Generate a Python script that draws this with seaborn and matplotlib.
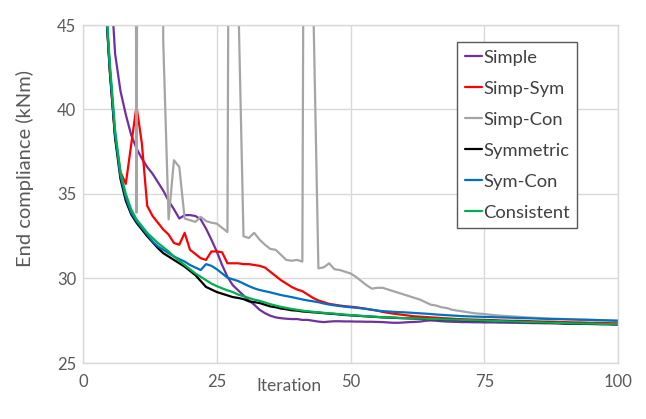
import matplotlib
matplotlib.use("Agg")
import matplotlib.pyplot as plt
import seaborn as sns
import pandas as pd
import numpy as np

iterations = list(range(1, 101))

simple = [150, 100, 70, 56, 48.5, 43.3, 41.1, 39.7, 38.5, 37.7,
          37.1, 36.6, 36.2, 35.7, 35.2, 34.6, 34.1, 33.55, 33.75, 33.75,
          33.7, 33.5, 32.95, 32.3, 31.6, 30.8, 30.1, 29.6, 29.3, 29.0,
          28.7, 28.45, 28.15, 27.95, 27.8, 27.7, 27.65, 27.62, 27.6, 27.6,
          27.55, 27.55, 27.5, 27.45, 27.42, 27.45, 27.47, 27.47, 27.46, 27.46,
          27.45, 27.45, 27.44, 27.44, 27.43, 27.42, 27.4, 27.38, 27.38, 27.4,
          27.42, 27.43, 27.45, 27.5, 27.52, 27.5, 27.47, 27.45, 27.44, 27.43,
          27.42, 27.42, 27.41, 27.41, 27.4, 27.4, 27.4, 27.39, 27.39, 27.38,
          27.38, 27.37, 27.37, 27.36, 27.36, 27.35, 27.35, 27.34, 27.34, 27.33,
          27.33, 27.32, 27.32, 27.31, 27.31, 27.3, 27.3, 27.3, 27.29, 27.29]

simp_sym = [121, 80.5, 58.2, 47.6, 42.4, 38.4, 36.3, 35.6, 37.9, 40.2,
            38.0, 34.3, 33.7, 33.3, 32.9, 32.6, 32.1, 32.0, 32.7, 31.7,
            31.45, 31.2, 31.1, 31.6, 31.6, 31.55, 30.9, 30.9, 30.9, 30.85,
            30.85, 30.8, 30.75, 30.65, 30.4, 30.15, 29.9, 29.7, 29.5, 29.35,
            29.25, 29.05, 28.85, 28.7, 28.6, 28.5, 28.45, 28.4, 28.36, 28.33,
            28.3, 28.25, 28.2, 28.15, 28.1, 28.02, 27.97, 27.92, 27.88, 27.84,
            27.8, 27.76, 27.74, 27.72, 27.7, 27.68, 27.66, 27.64, 27.62, 27.6,
            27.59, 27.58, 27.57, 27.56, 27.55, 27.54, 27.53, 27.52, 27.51, 27.5,
            27.5, 27.49, 27.48, 27.47, 27.46, 27.45, 27.45, 27.44, 27.43, 27.42,
            27.41, 27.4, 27.4, 27.39, 27.38, 27.38, 27.37, 27.36, 27.35, 27.35]

simp_con = [400, 350, 300, 260, 230, 210, 190, 175, 160, 33.9,
            150, 140, 130, 120, 44, 33.5, 37.0, 36.6, 33.55, 33.45,
            33.35, 33.65, 33.4, 33.3, 33.25, 33.0, 32.75, 120, 47, 32.5,
            32.4, 32.7, 32.3, 32.0, 31.75, 31.7, 31.4, 31.1, 31.05, 31.1,
            31.0, 120, 47, 30.6, 30.66, 30.9, 30.55, 30.5, 30.4, 30.3,
            30.1, 29.85, 29.6, 29.4, 29.45, 29.45, 29.35, 29.25, 29.15, 29.05,
            28.95, 28.85, 28.75, 28.6, 28.45, 28.4, 28.3, 28.25, 28.15, 28.1,
            28.05, 28.0, 27.95, 27.92, 27.9, 27.86, 27.83, 27.8, 27.78, 27.76,
            27.74, 27.72, 27.7, 27.68, 27.66, 27.64, 27.63, 27.62, 27.61, 27.6,
            27.59, 27.58, 27.57, 27.56, 27.55, 27.54, 27.53, 27.52, 27.51, 27.5]

symmetric = [120, 80, 58, 47.5, 42.3, 38.3, 35.9, 34.6, 33.8, 33.3,
             32.9, 32.5, 32.15, 31.8, 31.5, 31.3, 31.1, 30.9, 30.7, 30.45,
             30.2, 29.85, 29.5, 29.35, 29.2, 29.1, 29.0, 28.9, 28.85, 28.78,
             28.65, 28.6, 28.55, 28.45, 28.35, 28.3, 28.22, 28.18, 28.12, 28.1,
             28.05, 28.03, 28.0, 27.98, 27.95, 27.92, 27.9, 27.87, 27.84, 27.82,
             27.8, 27.78, 27.76, 27.74, 27.72, 27.7, 27.69, 27.68, 27.66, 27.65,
             27.64, 27.63, 27.62, 27.61, 27.6, 27.6, 27.58, 27.57, 27.56, 27.55,
             27.54, 27.53, 27.52, 27.51, 27.5, 27.5, 27.49, 27.48, 27.47, 27.46,
             27.45, 27.44, 27.43, 27.42, 27.41, 27.4, 27.39, 27.38, 27.36, 27.34,
             27.33, 27.33, 27.32, 27.32, 27.31, 27.31, 27.3, 27.3, 27.29, 27.28]

sym_con = [122, 81, 58.5, 47.6, 42.5, 38.5, 36.1, 34.8, 33.9, 33.4,
           33.0, 32.6, 32.2, 31.9, 31.7, 31.5, 31.3, 31.15, 31.0, 30.8,
           30.65, 30.5, 30.85, 30.75, 30.55, 30.3, 30.05, 29.95, 29.85, 29.7,
           29.55, 29.42, 29.32, 29.25, 29.18, 29.1, 29.02, 28.96, 28.9, 28.83,
           28.76, 28.7, 28.65, 28.6, 28.52, 28.46, 28.41, 28.37, 28.33, 28.3,
           28.27, 28.24, 28.2, 28.15, 28.1, 28.07, 28.05, 28.03, 28.01, 28.0,
           27.98, 27.96, 27.94, 27.92, 27.9, 27.87, 27.85, 27.83, 27.81, 27.79,
           27.77, 27.76, 27.75, 27.74, 27.73, 27.72, 27.71, 27.7, 27.69, 27.68,
           27.67, 27.66, 27.65, 27.64, 27.63, 27.62, 27.61, 27.6, 27.6, 27.59,
           27.58, 27.57, 27.56, 27.56, 27.55, 27.54, 27.53, 27.52, 27.51, 27.5]

consistent = [125, 82, 59, 47.8, 42.8, 38.8, 36.3, 35.0, 34.1, 33.5,
              33.1, 32.7, 32.4, 32.1, 31.85, 31.6, 31.3, 31.05, 30.8, 30.55,
              30.3, 30.1, 29.9, 29.7, 29.55, 29.42, 29.3, 29.2, 29.05, 28.95,
              28.85, 28.75, 28.68, 28.58, 28.48, 28.4, 28.32, 28.26, 28.2, 28.15,
              28.1, 28.06, 28.03, 28.0, 27.97, 27.94, 27.92, 27.89, 27.86, 27.84,
              27.81, 27.79, 27.77, 27.75, 27.73, 27.71, 27.7, 27.69, 27.67, 27.66,
              27.65, 27.64, 27.63, 27.62, 27.61, 27.6, 27.59, 27.58, 27.57, 27.56,
              27.55, 27.54, 27.53, 27.52, 27.51, 27.5, 27.49, 27.48, 27.47, 27.46,
              27.45, 27.44, 27.43, 27.42, 27.41, 27.4, 27.39, 27.38, 27.37, 27.36,
              27.35, 27.34, 27.34, 27.33, 27.33, 27.32, 27.31, 27.31, 27.3, 27.3]

series_names = ["Simple", "Simp-Sym", "Simp-Con", "Symmetric", "Sym-Con", "Consistent"]
series_values = [simple, simp_sym, simp_con, symmetric, sym_con, consistent]
series_colors = ["#7030A0", "#FF0000", "#A5A5A5", "#000000", "#0070C0", "#00B050"]

x_ticks = [0, 25, 50, 75, 100]
y_ticks = [25, 30, 35, 40, 45]

frames = []
for name, vals in zip(series_names, series_values):
    frames.append(pd.DataFrame({"Iteration": iterations, "Compliance": vals, "Series": name}))
df = pd.concat(frames, ignore_index=True)

sns.set_style("white")
plt.rcParams["font.family"] = ["Lato", "DejaVu Sans"]

fig = plt.figure(figsize=(6.46, 4.19), dpi=100)
ax = fig.add_axes([83 / 646, 1 - 363 / 419, (618 - 83) / 646, (363 - 25) / 419])

sns.lineplot(data=df, x="Iteration", y="Compliance", hue="Series",
             hue_order=series_names, palette=dict(zip(series_names, series_colors)),
             estimator=None, sort=False, linewidth=1.6, ax=ax, legend=True)

ax.set_xlim(0, 100)
ax.set_ylim(25, 45)
ax.set_xticks(x_ticks)
ax.set_yticks(y_ticks)
ax.grid(True, color="#d9d9d9", linewidth=1.0)
ax.set_axisbelow(True)
for s in ax.spines.values():
    s.set_color("#d9d9d9")
    s.set_linewidth(1.0)
ax.tick_params(axis="both", length=0, labelsize=12, labelcolor="#595959")
ax.tick_params(axis="y", pad=5)
ax.tick_params(axis="x", pad=8)

ax.set_ylabel("End compliance (kNm)", fontsize=14.5, color="#595959")
ax.yaxis.set_label_coords(-0.092, 0.575)
ax.set_xlabel("Iteration", fontsize=12.5, color="#595959")
ax.xaxis.set_label_coords(0.385, -0.068)
ax.xaxis.label.set_verticalalignment("center")

handles, labels = ax.get_legend_handles_labels()
leg = ax.legend(handles, labels, loc="upper left", bbox_to_anchor=(0.699, 0.95),
                fontsize=13.2, frameon=True, fancybox=False, framealpha=1,
                edgecolor="#595959", handlelength=0.95, handletextpad=0.05,
                labelspacing=0.82, borderpad=0.42, borderaxespad=0)
leg.get_frame().set_linewidth(1.0)
for t in leg.get_texts():
    t.set_color("#404040")

fig.savefig("out.png", dpi=100)
